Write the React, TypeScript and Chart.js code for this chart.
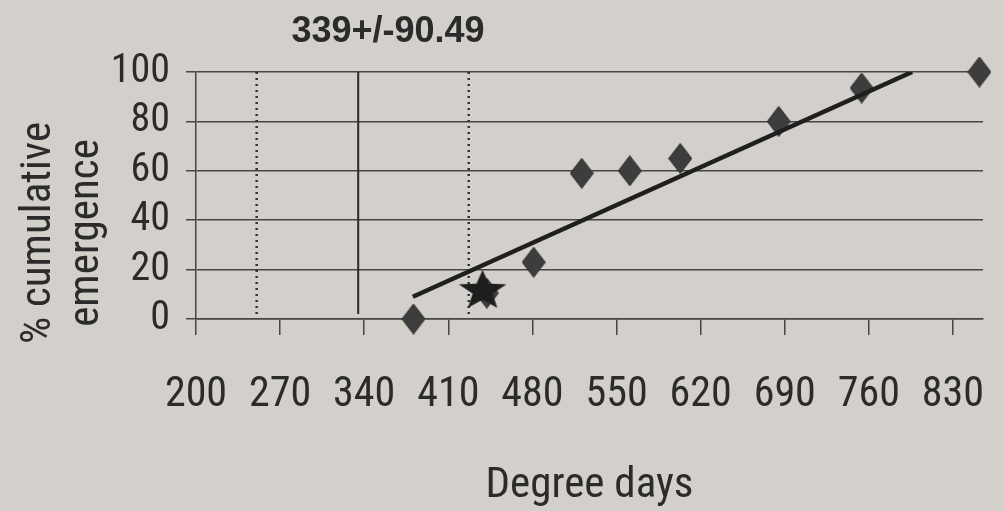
import React, { useEffect, useRef } from "react";
import { Chart, registerables } from "chart.js";

Chart.register(...registerables);

// ---- data ----
const xTickValues = [200, 270, 340, 410, 480, 550, 620, 690, 760, 830];
const yTickValues = [0, 20, 40, 60, 80, 100];
const emergenceDD = [381, 442, 481, 521, 561, 603, 685, 754, 852];
const emergencePct = [0, 10.5, 23, 59, 60, 65, 80, 93.5, 100];
const starDD = [438.5];
const starPct = [11.4];
const trendDD = [380.5, 796];
const trendPct = [9, 100];
const meanLineDD = [335];
const sdLinesDD = [250.5, 427];
const refLinePct = [2, 100];
const titleText = "339+/-90.49";
const xAxisTitle = "Degree days";
const yAxisTitle = ["% cumulative", "emergence"];

const NARROW = "'Roboto Condensed', 'Liberation Sans', Arial, sans-serif";
const SANS = "'Liberation Sans', Arial, sans-serif";
const INK = "#2b2b2b";
const LINE = "#464646";
const BG = "#d3cfca";

function makeDiamond(): HTMLCanvasElement {
  const c = document.createElement("canvas");
  c.width = 24;
  c.height = 31;
  const g = c.getContext("2d")!;
  g.beginPath();
  g.moveTo(12, 0.5);
  g.lineTo(23.5, 15.5);
  g.lineTo(12, 30.5);
  g.lineTo(0.5, 15.5);
  g.closePath();
  g.fillStyle = "#3d3d3d";
  g.fill();
  g.strokeStyle = "#2a2a2a";
  g.lineWidth = 1;
  g.stroke();
  return c;
}

function makeStar(): HTMLCanvasElement {
  const R = 25;
  const r = R * 0.42;
  const sy = 0.84;
  const c = document.createElement("canvas");
  c.width = 54;
  c.height = 54;
  const g = c.getContext("2d")!;
  g.beginPath();
  for (let i = 0; i < 10; i++) {
    const rad = i % 2 === 0 ? R : r;
    const a = -Math.PI / 2 + (i * Math.PI) / 5;
    const px = 27 + rad * Math.cos(a);
    const py = 27 + rad * Math.sin(a) * sy;
    if (i === 0) g.moveTo(px, py);
    else g.lineTo(px, py);
  }
  g.closePath();
  g.fillStyle = "#1e1e1e";
  g.fill();
  return c;
}

const textPlugin = {
  id: "customTexts",
  afterDraw(chart: any) {
    const ctx = chart.ctx;
    ctx.save();
    ctx.font = `bold 36px ${SANS}`;
    ctx.fillStyle = INK;
    ctx.textAlign = "center";
    ctx.textBaseline = "alphabetic";
    ctx.fillText(titleText, 388, 42);
    ctx.restore();

    const baselines = [50, 98];
    yAxisTitle.forEach((line, i) => {
      ctx.save();
      ctx.font = `43px ${NARROW}`;
      ctx.fillStyle = INK;
      ctx.textAlign = "center";
      ctx.textBaseline = "alphabetic";
      ctx.translate(baselines[i], 233);
      ctx.rotate(-Math.PI / 2);
      ctx.fillText(line, 0, 0);
      ctx.restore();
    });
  },
};

export default function App() {
  const ref = useRef<HTMLCanvasElement | null>(null);

  useEffect(() => {
    if (!ref.current) return;
    const diamond = makeDiamond();
    const star = makeStar();
    const vline = (x: number) => refLinePct.map((y) => ({ x, y }));
    const chart = new Chart(ref.current, {
      type: "scatter",
      data: {
        datasets: [
          {
            label: "star",
            data: starDD.map((x, i) => ({ x, y: starPct[i] })),
            pointStyle: star as any,
            pointRadius: 20,
            clip: false as any,
          },
          {
            label: "trend",
            data: trendDD.map((x, i) => ({ x, y: trendPct[i] })),
            showLine: true,
            borderColor: "#1f1f1f",
            borderWidth: 4.5,
            pointRadius: 0,
          },
          {
            label: "emergence",
            data: emergenceDD.map((x, i) => ({ x, y: emergencePct[i] })),
            pointStyle: diamond as any,
            pointRadius: 15,
            clip: false as any,
          },
          {
            label: "mean",
            data: vline(meanLineDD[0]),
            showLine: true,
            borderColor: "#2a2a2a",
            borderWidth: 2,
            pointRadius: 0,
          },
          {
            label: "lower",
            data: vline(sdLinesDD[0]),
            showLine: true,
            borderColor: "#333333",
            borderWidth: 2.5,
            borderDash: [2, 4],
            pointRadius: 0,
          },
          {
            label: "upper",
            data: vline(sdLinesDD[1]),
            showLine: true,
            borderColor: "#333333",
            borderWidth: 2.5,
            borderDash: [2, 4],
            pointRadius: 0,
          },
        ],
      },
      options: {
        animation: false,
        responsive: false,
        devicePixelRatio: 1,
        layout: { padding: { top: 72, right: 7, left: 0, bottom: 0 } },
        plugins: {
          legend: { display: false },
          tooltip: { enabled: false },
          title: { display: false },
        },
        scales: {
          x: {
            type: "linear",
            min: 200,
            max: 855,
            afterBuildTicks: (scale: any) => {
              scale.ticks = xTickValues.map((v) => ({ value: v }));
            },
            afterFit: (scale: any) => {
              scale.height = 192;
              scale.paddingLeft = 0;
              scale.paddingRight = 0;
            },
            grid: {
              drawOnChartArea: false,
              drawTicks: true,
              tickLength: 16,
              color: LINE,
              lineWidth: 1.5,
            },
            border: { display: true, color: LINE, width: 1.5 },
            ticks: {
              color: INK,
              font: { family: NARROW, size: 42, lineHeight: 1 },
              padding: 39,
              maxRotation: 0,
              autoSkip: false,
            },
            title: {
              display: true,
              text: xAxisTitle,
              color: INK,
              font: { family: NARROW, size: 43, lineHeight: 1 },
              padding: { top: 0, bottom: 3 },
            },
          },
          y: {
            type: "linear",
            min: 0,
            max: 100,
            afterBuildTicks: (scale: any) => {
              scale.ticks = yTickValues.map((v) => ({ value: v }));
            },
            afterFit: (scale: any) => {
              scale.width = 196;
              scale.paddingTop = 0;
              scale.paddingBottom = 0;
            },
            grid: {
              drawOnChartArea: true,
              drawTicks: true,
              tickLength: 10,
              color: LINE,
              lineWidth: 1.5,
            },
            border: { display: true, color: LINE, width: 1.5 },
            ticks: {
              color: INK,
              font: { family: NARROW, size: 40, lineHeight: 1 },
              padding: 16,
            },
            title: { display: false },
          },
        },
      },
      plugins: [textPlugin],
    });
    return () => chart.destroy();
  }, []);

  return (
    <div
      style={{
        position: "fixed",
        left: 0,
        top: 0,
        width: 1004,
        height: 511,
        background: BG,
      }}
    >
      <canvas ref={ref} width={1004} height={511} />
    </div>
  );
}
